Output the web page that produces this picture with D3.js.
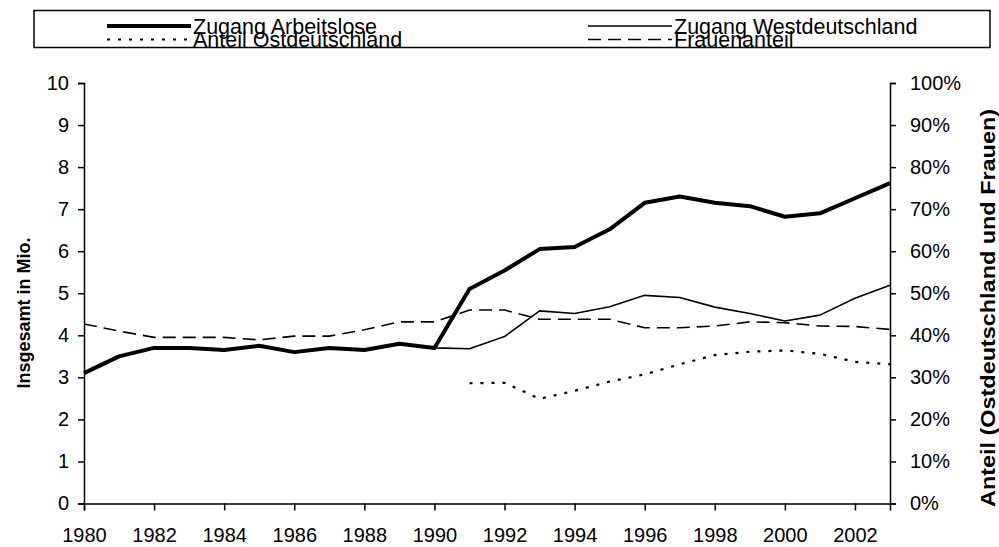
<!DOCTYPE html>
<head>
<style>
  body { margin: 0; background: #fff; }
  svg { display: block; font-family: "Liberation Sans", Arial, sans-serif; }
  .axis path, .axis line { stroke: #000; stroke-width: 1.5; }
  .axis text { font-size: 20px; fill: #000; }
  .title { font-weight: bold; }
  .legend text { font-size: 21.5px; }
</style>
</head>
<body>
<svg width="999" height="547"></svg>
<script src="https://cdnjs.cloudflare.com/ajax/libs/d3/7.8.5/d3.min.js"></script>
<script>
var years = d3.range(1980, 2004);

// Zugang Arbeitslose (Mio.)
var zugang = [3.1, 3.5, 3.7, 3.7, 3.65, 3.75, 3.6, 3.7, 3.65, 3.8, 3.7,
  5.1, 5.54, 6.05, 6.1, 6.52, 7.15, 7.3, 7.15, 7.07, 6.82, 6.9, 7.26, 7.62];
// Zugang Westdeutschland (Mio.)
var west = [3.1, 3.5, 3.7, 3.7, 3.65, 3.75, 3.6, 3.7, 3.65, 3.8, 3.7,
  3.68, 3.97, 4.58, 4.52, 4.68, 4.95, 4.9, 4.67, 4.52, 4.34, 4.48, 4.88, 5.19];
// Anteil Ostdeutschland (%), ab 1991
var ost = [null, null, null, null, null, null, null, null, null, null, null,
  28.6, 28.7, 24.9, 26.8, 29.0, 30.7, 33.1, 35.3, 36.1, 36.4, 35.6, 33.7, 33.1];
// Frauenanteil (%)
var frauen = [42.7, 41.0, 39.5, 39.5, 39.5, 38.9, 39.8, 39.8, 41.3, 43.2, 43.2,
  46.0, 46.0, 43.8, 43.8, 43.8, 41.8, 41.8, 42.2, 43.2, 43.0, 42.2, 42.1, 41.4];

var xTicks = d3.range(1980, 2003, 2);
var yTicks = d3.range(0, 11);
var pTicks = d3.range(0, 101, 10);

var svg = d3.select("svg");

var x = d3.scaleLinear().domain([1980, 2003]).range([84, 890]);
var y = d3.scaleLinear().domain([0, 10]).range([503.5, 83]);
var yp = d3.scaleLinear().domain([0, 100]).range([503.5, 83]);

// axes
svg.append("g").attr("class", "axis")
  .attr("transform", "translate(84,0)")
  .call(d3.axisLeft(y).tickValues(yTicks).tickSize(6).tickPadding(9).tickFormat(d3.format("d")));

svg.append("g").attr("class", "axis")
  .attr("transform", "translate(890,0)")
  .call(d3.axisRight(yp).tickValues(pTicks).tickSize(6).tickPadding(14).tickFormat(function(d) { return d + "%"; }));

svg.append("g").attr("class", "axis")
  .attr("transform", "translate(0,503.5)")
  .call(d3.axisBottom(x).tickValues(xTicks).tickSize(7).tickPadding(17).tickFormat(d3.format("d")));

// lines
var rows = years.map(function(yr, i) {
  return {year: yr, zugang: zugang[i], west: west[i], ost: ost[i], frauen: frauen[i]};
});

function lineFor(key, scale) {
  return d3.line()
    .defined(function(d) { return d[key] != null; })
    .x(function(d) { return x(d.year); })
    .y(function(d) { return scale(d[key]); });
}

var series = [
  {key: "frauen", scale: yp, width: 1.6, dash: "13,7", label: "Frauenanteil"},
  {key: "ost", scale: yp, width: 2.2, dash: "3,8", label: "Anteil Ostdeutschland"},
  {key: "west", scale: y, width: 1.6, dash: null, label: "Zugang Westdeutschland"},
  {key: "zugang", scale: y, width: 4, dash: null, label: "Zugang Arbeitslose"}
];

series.forEach(function(s) {
  svg.append("path")
    .attr("d", lineFor(s.key, s.scale)(rows))
    .attr("fill", "none")
    .attr("stroke", "#000")
    .attr("stroke-width", s.width)
    .attr("stroke-linejoin", "round")
    .attr("stroke-dasharray", s.dash);
});

// axis titles
svg.append("text").attr("class", "title")
  .attr("transform", "translate(25,313) rotate(-90)")
  .attr("text-anchor", "middle")
  .attr("dominant-baseline", "middle")
  .attr("font-size", 18)
  .text("Insgesamt in Mio.");

svg.append("text").attr("class", "title")
  .attr("transform", "translate(990,308) rotate(-90)")
  .attr("text-anchor", "middle")
  .attr("dominant-baseline", "middle")
  .attr("font-size", 20)
  .attr("textLength", 398)
  .attr("lengthAdjust", "spacingAndGlyphs")
  .text("Anteil (Ostdeutschland und Frauen)");

// legend
var legend = svg.append("g").attr("class", "legend");
legend.append("rect")
  .attr("x", 34).attr("y", 10.5).attr("width", 956).attr("height", 37)
  .attr("fill", "#fff").attr("stroke", "#000").attr("stroke-width", 1.5);

var legendItems = [
  {s: series[3], col: 0, row: 0},
  {s: series[2], col: 1, row: 0},
  {s: series[1], col: 0, row: 1},
  {s: series[0], col: 1, row: 1}
];
var colX = [107, 588];
var rowY = [26, 39.5];

legendItems.forEach(function(it) {
  var gx = colX[it.col], gy = rowY[it.row];
  legend.append("line")
    .attr("x1", gx).attr("x2", gx + 84)
    .attr("y1", gy).attr("y2", gy)
    .attr("stroke", "#000")
    .attr("stroke-width", it.s.width)
    .attr("stroke-dasharray", it.s.dash);
  legend.append("text")
    .attr("x", gx + 86).attr("y", gy)
    .attr("dy", "0.35em")
    .text(it.s.label);
});
</script>
</body>
</html>
